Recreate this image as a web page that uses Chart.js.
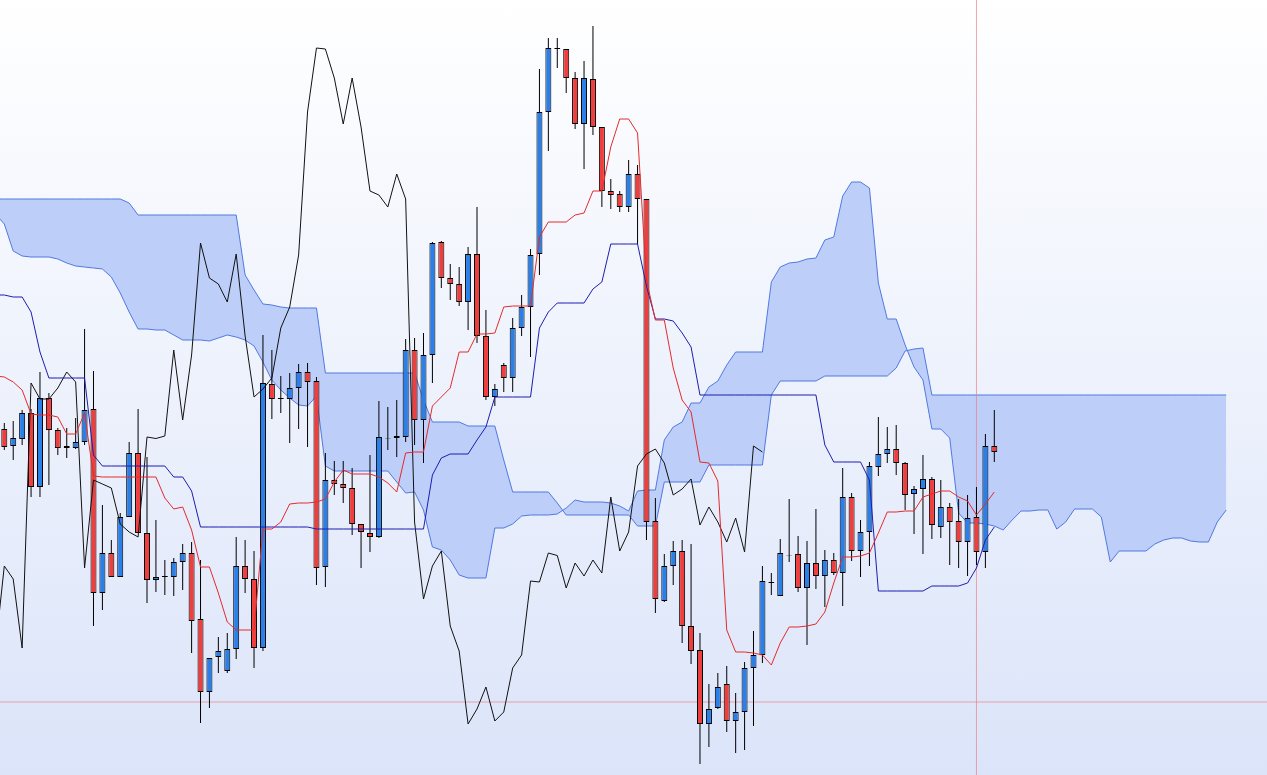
<!DOCTYPE html>
<html>
<head>
<meta charset="utf-8">
<title>Ichimoku</title>
<script src="https://cdn.jsdelivr.net/npm/chart.js@4.4.1/dist/chart.umd.min.js"></script>
<style>
  html, body { margin: 0; padding: 0; }
  body {
    width: 1267px; height: 775px; overflow: hidden;
    background: linear-gradient(to bottom, #ffffff 0%, #dbe4f9 100%);
  }
  #wrap { position: relative; width: 1267px; height: 775px; }
</style>
</head>
<body>
<div id="wrap"><canvas id="ichimokuChart"></canvas></div>
<script>
// candles, bar 0 = first full bar on screen
const opens = [
  37.1, 35.4, 36.1, 38.7, 31.3, 40.2, 37.0, 35.2, 35.2, 35.8,
  39.1, 20.7, 24.7, 22.3, 28.3, 34.7, 26.7, 22.0, 22.3, 22.3,
  23.8, 24.7, 18.1, 10.8, 14.3, 12.9, 15.1, 23.4, 22.1, 15.2,
  41.6, 40.2, 40.1, 41.2, 42.8, 41.9, 23.3, 32.0, 31.6, 31.2,
  27.6, 26.7, 26.3, 36.2, 36.2, 36.3, 45.0, 38.0, 44.5, 55.8,
  52.2, 51.6, 49.8, 54.6, 46.4, 40.3, 43.5, 42.2, 47.2, 49.3,
  54.6, 68.8, 75.2, 75.1, 72.2, 67.6, 72.1, 67.3, 60.9, 60.6,
  59.3, 62.6, 60.1, 27.9, 19.9, 23.4, 24.9, 17.4, 15.0, 7.6,
  9.2, 11.6, 7.9, 8.8, 13.2, 14.5, 21.7, 20.4, 24.5, 24.6,
  21.2, 23.7, 22.4, 24.0, 22.7, 30.3, 24.9, 26.8, 33.3, 34.6,
  35.1, 33.7, 30.6, 31.1, 32.1, 27.3, 29.3, 27.9, 25.8, 28.3,
  24.8, 35.4
];
const highs = [
  37.7, 37.9, 39.0, 39.1, 42.8, 40.7, 37.2, 37.2, 38.2, 47.1,
  42.9, 29.5, 26.0, 28.7, 35.8, 39.1, 34.3, 28.0, 24.0, 24.2,
  25.6, 25.8, 24.0, 14.2, 16.3, 16.7, 26.3, 26.0, 24.9, 46.5,
  45.0, 42.4, 42.7, 43.6, 43.7, 42.3, 34.7, 33.9, 33.9, 33.2,
  27.6, 34.5, 39.9, 39.3, 40.0, 46.1, 46.2, 46.7, 55.8, 55.9,
  53.6, 53.3, 55.3, 59.3, 49.0, 41.6, 43.7, 48.2, 50.5, 55.1,
  73.1, 76.2, 76.2, 75.1, 72.8, 73.9, 77.4, 67.3, 62.1, 60.9,
  64.0, 63.5, 60.1, 30.2, 24.6, 25.9, 26.0, 25.6, 16.7, 11.6,
  12.7, 13.4, 10.7, 13.8, 16.9, 23.4, 22.7, 26.1, 30.1, 26.4,
  25.9, 29.1, 25.0, 24.7, 33.2, 30.7, 28.0, 33.8, 38.3, 37.3,
  37.5, 33.8, 31.4, 34.5, 32.3, 32.0, 29.7, 30.1, 30.5, 31.3,
  36.6, 39.0
];
const lows = [
  35.0, 34.0, 35.5, 30.3, 30.3, 31.5, 34.5, 34.2, 35.1, 35.5,
  17.4, 19.0, 22.3, 22.3, 28.3, 26.7, 19.7, 20.8, 20.5, 20.4,
  21.0, 14.7, 7.7, 9.2, 12.7, 12.7, 14.1, 20.7, 13.2, 14.9,
  38.1, 38.7, 35.7, 37.1, 35.3, 21.5, 21.3, 30.5, 29.7, 26.5,
  23.2, 24.8, 26.2, 35.0, 34.3, 35.8, 35.5, 33.7, 41.7, 51.2,
  50.0, 49.4, 47.0, 45.7, 40.0, 39.4, 40.8, 40.8, 46.4, 44.3,
  52.5, 64.9, 73.2, 70.7, 67.1, 63.1, 66.5, 59.3, 59.1, 58.8,
  58.8, 55.6, 26.0, 18.7, 19.8, 21.5, 15.7, 13.6, 3.6, 5.3,
  9.1, 6.8, 4.7, 5.0, 7.4, 13.7, 20.5, 20.4, 23.8, 20.8,
  15.5, 21.1, 19.3, 22.5, 19.4, 23.9, 22.3, 23.4, 32.4, 33.7,
  32.5, 29.0, 26.6, 24.6, 26.1, 26.2, 23.5, 23.2, 22.4, 23.5,
  23.2, 33.8
];
const closes = [
  35.3, 36.2, 38.7, 31.3, 40.2, 37.0, 35.2, 35.4, 35.8, 39.0,
  20.7, 24.7, 22.3, 28.3, 34.7, 26.7, 22.0, 22.3, 22.4, 23.8,
  24.7, 17.9, 10.8, 14.2, 14.9, 15.1, 23.4, 22.1, 15.2, 41.7,
  40.1, 40.1, 41.2, 42.8, 41.8, 23.2, 32.0, 31.6, 31.2, 27.6,
  26.8, 26.3, 36.3, 36.15, 36.4, 45.0, 38.0, 44.5, 55.7, 52.2,
  51.6, 49.8, 54.6, 46.4, 40.3, 41.1, 42.2, 47.2, 49.3, 54.5,
  68.8, 75.2, 75.1, 72.2, 67.6, 72.2, 67.3, 60.9, 60.5, 59.3,
  62.6, 60.1, 27.8, 20.1, 23.4, 24.9, 17.4, 14.9, 7.6, 9.1,
  11.3, 7.9, 8.8, 13.2, 14.5, 21.9, 21.8, 24.7, 24.45, 21.2,
  23.7, 22.4, 24.0, 22.7, 30.3, 24.9, 26.8, 33.4, 34.6, 35.1,
  33.7, 30.5, 31.1, 32.1, 27.5, 29.3, 27.8, 25.8, 28.2, 24.8,
  35.4, 34.8
];

// indicator lines start one bar earlier (bar -1, cut at the left edge)
const lineStart = -1;

// conversion line (red) and base line (dark blue)
const tenkan = [
  42.4,
  42.3, 41.8, 41.0, 38.6, 38.5, 38.5, 38.3, 36.6, 36.6, 38.7,
  32.4, 32.3, 32.3, 32.3, 32.3, 32.3, 32.3, 32.3, 30.2, 29.1,
  29.3, 27.0, 23.3, 23.3, 20.7, 17.8, 17.0, 17.0, 17.0, 27.1,
  27.1, 27.8, 29.6, 29.7, 29.7, 29.8, 30.1, 31.8, 33.0, 32.6,
  32.6, 32.6, 32.3, 31.7, 30.8, 34.7, 34.8, 34.8, 39.4, 40.3,
  41.2, 44.8, 44.8, 46.6, 46.6, 46.7, 49.3, 49.4, 49.4, 49.4,
  56.3, 57.8, 57.8, 57.8, 58.5, 58.7, 60.9, 60.9, 65.3, 68.1,
  68.1, 66.7, 52.0, 48.0, 48.0, 43.2, 40.0, 38.8, 33.8, 33.7,
  31.9, 17.0, 14.8, 14.8, 14.7, 14.5, 13.5, 15.7, 17.3, 17.3,
  17.4, 17.6, 18.8, 21.7, 24.3, 24.3, 24.4, 24.7, 26.7, 28.8,
  28.8, 28.9, 28.9, 30.3, 30.6, 30.9, 30.9, 30.3, 29.9, 28.5,
  29.6, 30.8
];
const kijun = [
  50.5,
  50.5, 50.3, 50.3, 48.8, 44.8, 42.2, 42.2, 42.2, 42.2, 42.2,
  34.5, 33.4, 33.4, 33.4, 33.4, 33.4, 33.4, 33.4, 33.4, 32.3,
  32.3, 30.9, 27.3, 27.3, 27.3, 27.3, 27.3, 27.3, 27.3, 27.3,
  27.3, 27.3, 27.3, 27.3, 27.3, 27.1, 27.1, 27.1, 27.1, 27.1,
  27.1, 27.1, 27.1, 27.1, 27.1, 27.1, 27.1, 27.1, 32.5, 34.2,
  34.6, 34.6, 34.6, 36.0, 37.3, 40.3, 40.3, 40.3, 40.3, 40.3,
  47.2, 48.8, 49.7, 49.7, 49.7, 49.7, 51.1, 51.8, 55.6, 55.6,
  55.6, 55.6, 51.4, 48.1, 48.1, 47.9, 46.7, 45.3, 40.5, 40.5,
  40.5, 40.5, 40.5, 40.5, 40.5, 40.5, 40.5, 40.5, 40.5, 40.5,
  40.5, 40.5, 35.5, 33.8, 33.8, 33.8, 33.8, 32.0, 20.9, 20.9,
  20.9, 20.9, 20.9, 20.9, 21.4, 21.4, 21.4, 21.4, 21.7, 23.2,
  26.0, 27.3
];

// cloud spans, already drawn 26 bars ahead (bar -1 .. 137)
const senkouA = [
  58.6,
  57.6, 54.9, 54.4, 54.3, 54.3, 54.3, 54.1, 53.7, 53.4, 53.3,
  53.2, 53.1, 52.3, 50.7, 48.8, 47.1, 47.1, 47.0, 47.0, 46.5,
  46.0, 46.0, 46.0, 45.9, 46.2, 46.5, 46.3, 46.0, 45.4, 43.8,
  42.0, 41.0, 40.2, 39.5, 39.4, 40.4, 33.4, 32.9, 32.9, 32.9,
  32.9, 32.9, 32.9, 32.9, 31.8, 30.7, 30.8, 29.0, 25.3, 25.0,
  24.0, 22.5, 22.2, 22.2, 22.2, 27.2, 27.2, 27.6, 28.4, 28.5,
  28.5, 28.5, 28.6, 29.2, 30.0, 29.8, 29.8, 29.8, 29.7, 29.4,
  28.9, 30.9, 31.0, 31.0, 36.0, 37.3, 37.8, 39.7, 39.7, 41.3,
  41.9, 43.5, 44.8, 44.8, 44.8, 44.8, 51.8, 53.3, 53.7, 53.8,
  54.1, 54.2, 56.0, 56.3, 60.4, 61.8, 61.8, 61.2, 51.7, 48.1,
  48.1, 45.5, 43.3, 42.0, 37.1, 37.1, 36.2, 28.7, 27.7, 27.7,
  27.6, 27.4, 27.0, 28.0, 28.9, 28.9, 29.0, 29.0, 27.1, 27.8,
  29.1, 29.1, 29.1, 28.3, 23.8, 24.9, 24.9, 24.9, 24.9, 25.6,
  26.0, 26.2, 26.2, 25.9, 25.8, 25.8, 27.8, 29.0
];
const senkouB = [
  60.1,
  60.1, 60.1, 60.1, 60.1, 60.1, 60.1, 60.1, 60.1, 60.1, 60.1,
  60.1, 60.1, 60.1, 60.1, 59.7, 58.5, 58.5, 58.5, 58.5, 58.5,
  58.5, 58.5, 58.5, 58.5, 58.5, 58.5, 58.5, 52.5, 51.0, 49.6,
  49.5, 49.3, 49.2, 49.2, 49.2, 49.2, 42.7, 42.7, 42.7, 42.7,
  42.7, 42.7, 42.7, 42.7, 42.7, 42.7, 42.7, 40.0, 37.8, 37.8,
  37.8, 37.8, 37.4, 37.4, 37.4, 37.4, 34.0, 30.8, 30.8, 30.8,
  30.8, 30.8, 29.7, 28.5, 28.5, 28.5, 28.5, 28.5, 28.5, 28.5,
  28.5, 27.4, 27.4, 27.4, 31.8, 31.8, 31.8, 31.8, 31.8, 33.5,
  33.5, 33.5, 33.5, 33.5, 33.5, 33.5, 40.5, 41.9, 41.9, 41.9,
  41.9, 41.9, 42.4, 42.4, 42.4, 42.4, 42.4, 42.4, 42.4, 42.4,
  43.2, 44.9, 45.1, 45.2, 40.5, 40.5, 40.5, 40.5, 40.5, 40.5,
  40.5, 40.5, 40.5, 40.5, 40.5, 40.5, 40.5, 40.5, 40.5, 40.5,
  40.5, 40.5, 40.5, 40.5, 40.5, 40.5, 40.5, 40.5, 40.5, 40.5,
  40.5, 40.5, 40.5, 40.5, 40.5, 40.5, 40.5, 40.5
];

const chikouShift = 26;   // lagging span = close drawn 26 bars back
const crossIndex = 109;   // crosshair
const crossPrice = 9.8;
const priceMin = 2.5;
const priceMax = 80;

const pts = (arr, start) => arr.map((v, i) => ({ x: start + i, y: v }));
const upColor = '#2b7fe8';
const downColor = '#ee3e3e';
const cloudEdge = '#5078e0';
const crossColor = 'rgba(236,120,130,0.65)';

const lineDs = (label, data, color, order) => ({
  type: 'line', label, data,
  borderColor: color, borderWidth: 1,
  pointRadius: 0, tension: 0, fill: false, order
});

new Chart(document.getElementById('ichimokuChart'), {
  type: 'line',
  data: {
    datasets: [
      {
        type: 'line', label: 'Senkou A', data: pts(senkouA, lineStart),
        borderColor: cloudEdge, borderWidth: 1, pointRadius: 0, tension: 0,
        fill: '+1', backgroundColor: 'rgb(189,206,249)', order: 10
      },
      lineDs('Senkou B', pts(senkouB, lineStart), cloudEdge, 9),
      lineDs('crossV', [{ x: crossIndex, y: priceMin }, { x: crossIndex, y: priceMax }], crossColor, 8.5),
      lineDs('crossH', [{ x: -1, y: crossPrice }, { x: 142, y: crossPrice }], crossColor, 8.5),
      {
        type: 'bar', label: 'wick',
        data: highs.map((h, i) => ({ x: i, y: [lows[i], h] })),
        backgroundColor: '#000', barThickness: 1, grouped: false,
        inflateAmount: 0, order: 8
      },
      {
        type: 'bar', label: 'body',
        data: opens.map((o, i) => ({ x: i, y: [o, closes[i]] })),
        backgroundColor: closes.map((c, i) => c >= opens[i] ? upColor : downColor),
        borderColor: '#000', borderWidth: 1, borderSkipped: false,
        barThickness: 6, grouped: false, inflateAmount: 0, order: 7
      },
      lineDs('Chikou', closes.map((c, i) => ({ x: i - chikouShift, y: c })), '#111111', 4),
      lineDs('Kijun', pts(kijun, lineStart), '#1d1db0', 3),
      lineDs('Tenkan', pts(tenkan, lineStart), '#e42a2a', 2)
    ]
  },
  options: {
    responsive: true,
    maintainAspectRatio: false,
    animation: false,
    layout: { padding: 0 },
    plugins: { legend: { display: false }, tooltip: { enabled: false } },
    scales: {
      x: { type: 'linear', min: -0.482, max: 141.574, offset: false, display: false },
      y: { type: 'linear', min: priceMin, max: priceMax, beginAtZero: false, display: false }
    }
  }
});
</script>
</body>
</html>
